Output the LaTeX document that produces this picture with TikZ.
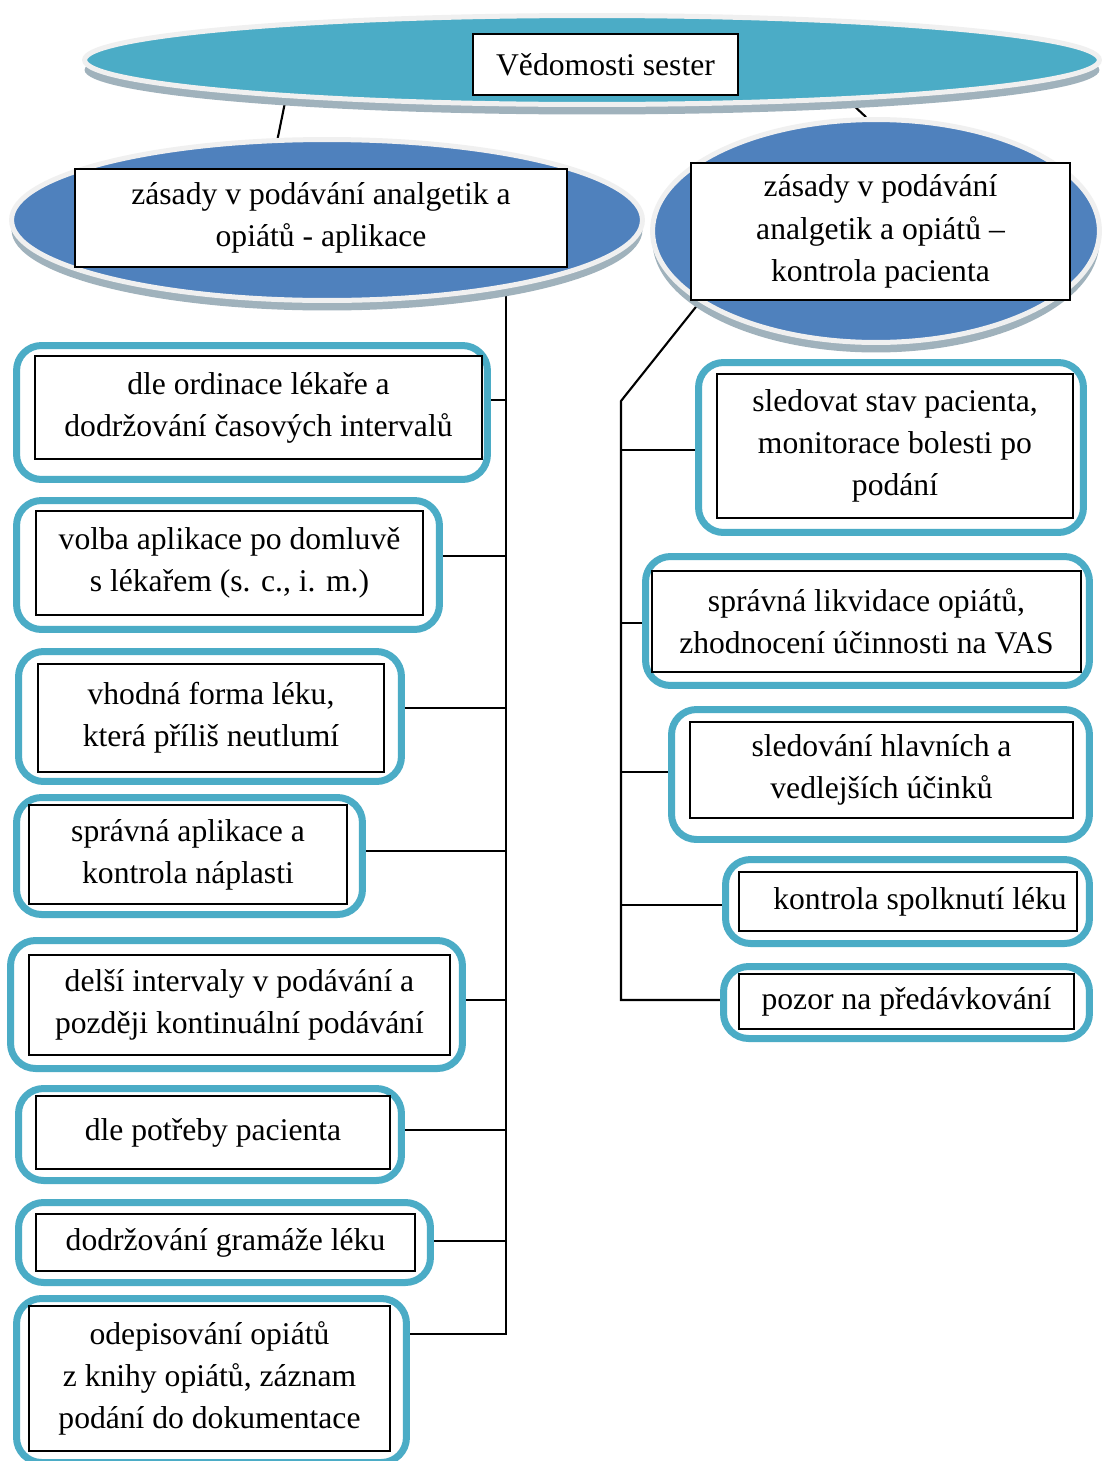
\documentclass[tikz,border=0pt]{standalone}
\usepackage{fontspec}
\setmainfont{Liberation Serif}
\usetikzlibrary{shapes.geometric,shadows,backgrounds}
\definecolor{tyrkys}{RGB}{75,172,198}
\definecolor{modra}{RGB}{79,129,189}
\definecolor{lem}{RGB}{240,240,240}
\definecolor{stin}{RGB}{160,178,188}

\begin{document}
\begin{tikzpicture}[x=0.02cm, y=-0.02cm, line width=1.2pt,
	oval/.style={ellipse, draw=lem, line width=0.1cm, inner sep=0pt,
		drop shadow={shadow xshift=0pt, shadow yshift=-0.2cm, fill=stin, opacity=1}},
	ramec/.style={draw=tyrkys, line width=0.14cm, rounded corners=0.5cm, inner sep=0pt},
	txt/.style={draw, line width=1.2pt, fill=white, align=center, inner sep=2pt,
		font=\fontsize{18}{24}\selectfont},
	spoj/.style={draw=black, line width=1.2pt}]
	\useasboundingbox (0,0) rectangle (1102,1461);

	% ovaly
	\node[oval, fill=tyrkys, minimum width=20.3cm, minimum height=1.78cm] (E0) at (592,60) {};
	\node[oval, fill=modra, minimum width=12.62cm, minimum height=3.22cm] (EA) at (327,220) {};
	\node[oval, fill=modra, minimum width=8.94cm, minimum height=4.46cm] (EK) at (876,231) {};
	\node[txt, minimum width=5.30cm, minimum height=1.22cm] (VS) at (605.5,64.5) {Vědomosti sester};
	\node[txt, minimum width=9.84cm, minimum height=1.96cm] (TA) at (321,218) {zásady v podávání analgetik a\\opiátů - aplikace};
	\node[txt, minimum width=7.58cm, minimum height=2.74cm] (TK) at (880.5,231.5) {zásady v podávání\\analgetik a opiátů –\\kontrola pacienta};

	% aplikace
	\node[ramec, minimum width=9.42cm, minimum height=2.68cm] (AF1) at (252,412.5) {};
	\node[txt, minimum width=8.94cm, minimum height=2.06cm] (A1) at (258.5,407.5) {dle ordinace lékaře a\\dodržování časových intervalů};
	\node[ramec, minimum width=8.46cm, minimum height=2.58cm] (AF2) at (228,565) {};
	\node[txt, minimum width=7.74cm, minimum height=2.08cm] (A2) at (229.5,563) {volba aplikace po domluvě\\s lékařem (s. c., i. m.)};
	\node[ramec, minimum width=7.66cm, minimum height=2.60cm] (AF3) at (210,716.5) {};
	\node[txt, minimum width=6.92cm, minimum height=2.16cm] (A3) at (211,718) {vhodná forma léku,\\která příliš neutlumí};
	\node[ramec, minimum width=6.92cm, minimum height=2.34cm] (AF4) at (189.5,856) {};
	\node[txt, minimum width=6.36cm, minimum height=1.98cm] (A4) at (188,854.5) {správná aplikace a\\kontrola náplasti};
	\node[ramec, minimum width=9.04cm, minimum height=2.56cm] (AF5) at (236.5,1004.5) {};
	\node[txt, minimum width=8.42cm, minimum height=2.00cm] (A5) at (239.5,1005) {delší intervaly v podávání a\\později kontinuální podávání};
	\node[ramec, minimum width=7.66cm, minimum height=1.84cm] (AF6) at (210,1134.5) {};
	\node[txt, minimum width=7.08cm, minimum height=1.46cm] (A6) at (213,1132.5) {dle potřeby pacienta};
	\node[ramec, minimum width=8.24cm, minimum height=1.60cm] (AF7) at (224.5,1242.5) {};
	\node[txt, minimum width=7.58cm, minimum height=1.14cm] (A7) at (225.5,1242.5) {dodržování gramáže léku};
	\node[ramec, minimum width=7.80cm, minimum height=3.28cm] (AF8) at (211.5,1380.5) {};
	\node[txt, minimum width=7.22cm, minimum height=2.90cm] (A8) at (209.5,1378.5) {odepisování opiátů\\z knihy opiátů, záznam\\podání do dokumentace};

	% kontrola
	\node[ramec, minimum width=7.70cm, minimum height=3.40cm] (KF1) at (891,447.5) {};
	\node[txt, minimum width=7.12cm, minimum height=2.88cm] (K1) at (895,446) {sledovat stav pacienta,\\monitorace bolesti po\\podání};
	\node[ramec, minimum width=8.88cm, minimum height=2.58cm] (KF2) at (867.5,621) {};
	\node[txt, minimum width=8.58cm, minimum height=2.02cm] (K2) at (866.5,621.5) {správná likvidace opiátů,\\zhodnocení účinnosti na VAS};
	\node[ramec, minimum width=8.36cm, minimum height=2.60cm] (KF3) at (880.5,774.5) {};
	\node[txt, minimum width=7.66cm, minimum height=1.92cm] (K3) at (881.5,770) {sledování hlavních a\\vedlejších účinků};
	\node[ramec, minimum width=7.28cm, minimum height=1.68cm] (KF4) at (907.5,901.5) {};
	\node[txt, minimum width=6.76cm, minimum height=1.18cm] (K4) at (908,901.5) {\hspace*{0.48cm}kontrola spolknutí léku};
	\node[ramec, minimum width=7.32cm, minimum height=1.44cm] (KF5) at (906.5,1002.5) {};
	\node[txt, minimum width=6.70cm, minimum height=1.10cm] (K5) at (906.5,1001.5) {pozor na předávkování};

	\coordinate (AT) at (EA.-21);
	\coordinate (KT) at (621,401);

	\begin{scope}[on background layer]
		\fill[white] (0,0) rectangle (1102,1461);
		\draw[spoj] (E0.187) -- (EA.121);
		\draw[spoj] (E0.-9) -- (EK.95);
		\draw[spoj] (AT) |- ([yshift=0.93cm]AF8.east);
		\foreach \i/\dy in {1/0.25cm,2/0.18cm,3/0.17cm,4/0.10cm,5/0.09cm,6/0.09cm,7/0.03cm}
			\draw[spoj] ([yshift=\dy]AF\i.east) -- ([yshift=\dy]AF\i.east -| AT);
		\draw[spoj] (EK.202) -- (KT) |- ([yshift=0.05cm]KF5.west);
		\foreach \i/\dy in {1/-0.05cm,2/-0.04cm,3/0.05cm,4/-0.07cm}
			\draw[spoj] ([yshift=\dy]KF\i.west) -- ([yshift=\dy]KF\i.west -| KT);
	\end{scope}
\end{tikzpicture}
\end{document}
